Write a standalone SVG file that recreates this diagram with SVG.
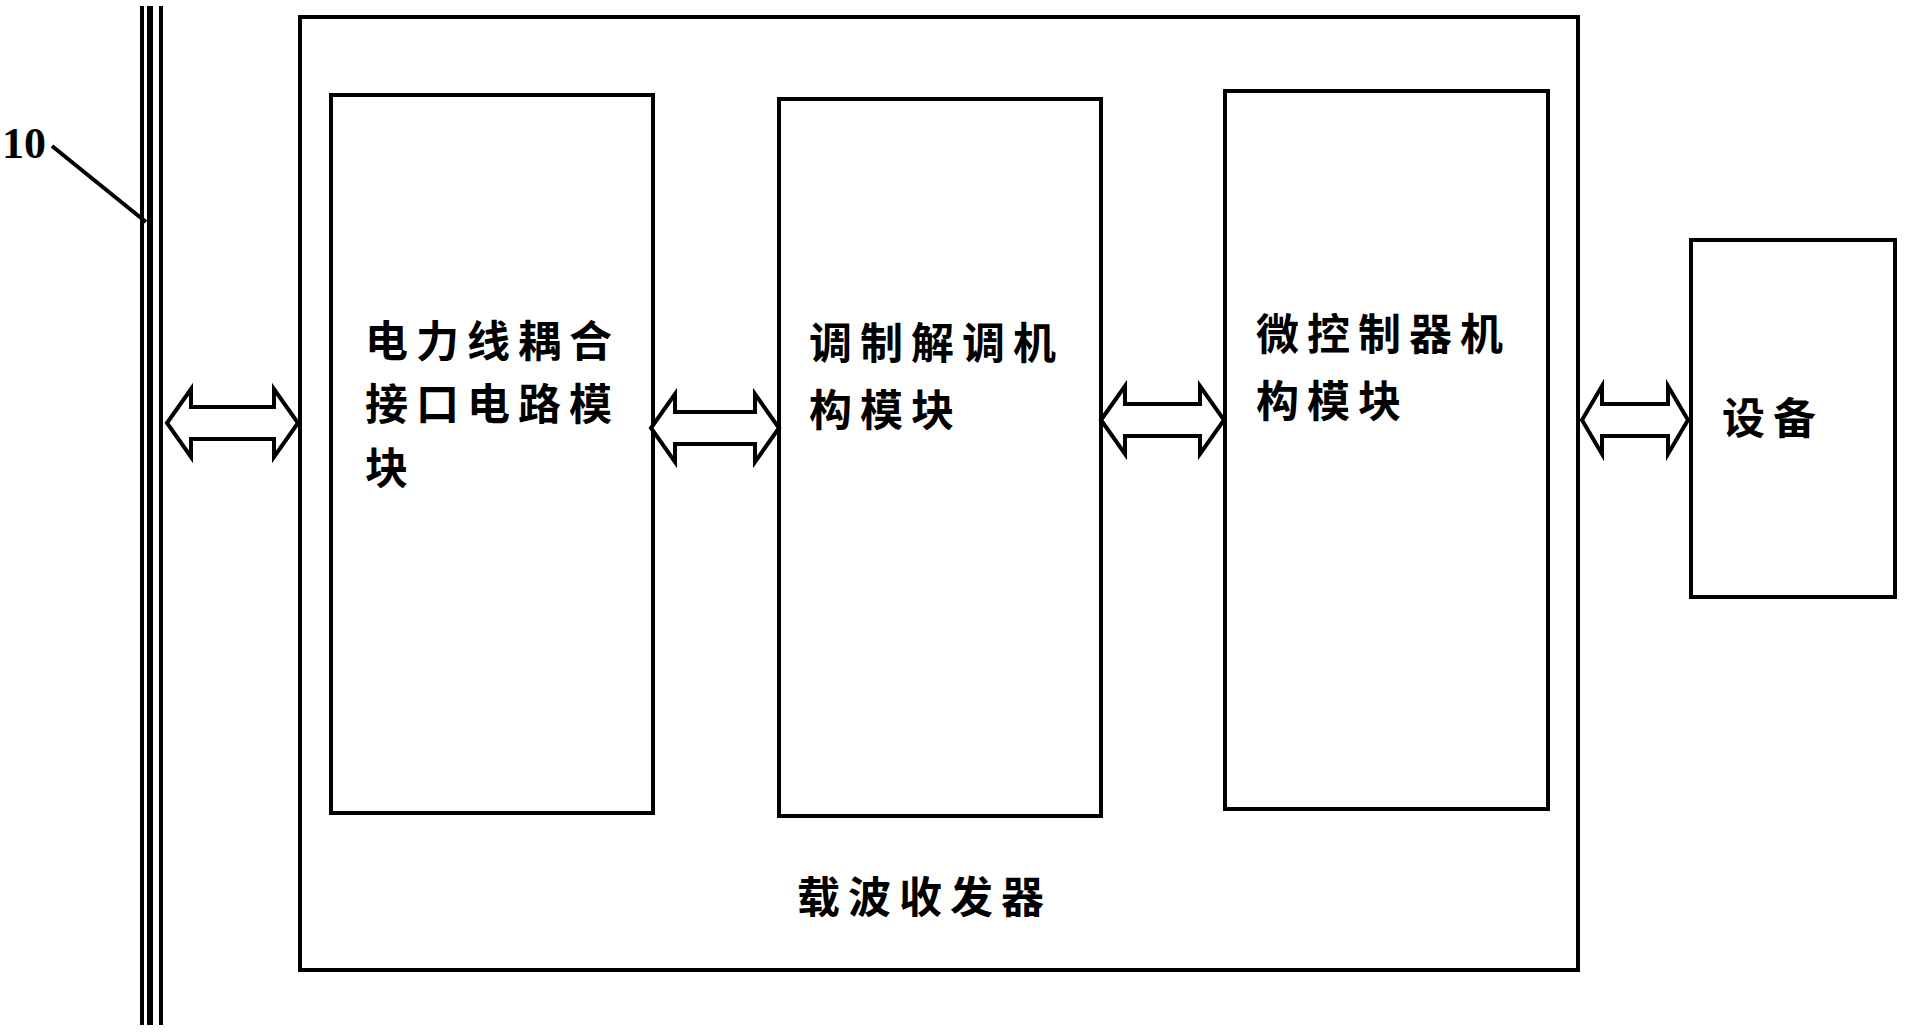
<svg xmlns="http://www.w3.org/2000/svg" width="1908" height="1035" viewBox="0 0 1908 1035">
<style>
.b{fill:none;stroke:#000;stroke-width:4}
.t{font-family:"Noto Sans CJK SC","Noto Sans",sans-serif;font-weight:bold;font-size:43px;letter-spacing:8px;fill:#000}
.a{fill:#fff;stroke:#000;stroke-width:4;stroke-linejoin:miter}
</style>
<rect width="1908" height="1035" fill="#fff"/>
<g id="powerline">
<line x1="142" y1="6" x2="142" y2="1025" stroke="#000" stroke-width="4"/>
<line x1="150" y1="6" x2="150" y2="1025" stroke="#000" stroke-width="6"/>
<line x1="161" y1="6" x2="161" y2="1025" stroke="#000" stroke-width="4"/>
<text x="2" y="158" font-family="Liberation Serif,serif" font-size="44" font-weight="bold">10</text>
<line x1="52" y1="146" x2="146" y2="222" stroke="#000" stroke-width="4"/>
</g>
<g id="transceiver">
<rect class="b" x="300" y="17" width="1278" height="953"/>
<text class="t" x="797" y="913">载波收发器</text>
</g>
<g id="coupling">
<rect class="b" x="331" y="95" width="322" height="718"/>
<text class="t" x="365" y="357">电力线耦合</text>
<text class="t" x="365" y="420">接口电路模</text>
<text class="t" x="365" y="484">块</text>
</g>
<g id="modem">
<rect class="b" x="779" y="99" width="322" height="717"/>
<text class="t" x="809" y="359">调制解调机</text>
<text class="t" x="809" y="426">构模块</text>
</g>
<g id="mcu">
<rect class="b" x="1225" y="91" width="323" height="718"/>
<text class="t" x="1256" y="350">微控制器机</text>
<text class="t" x="1256" y="417">构模块</text>
</g>
<g id="device">
<rect class="b" x="1691" y="240" width="204" height="357"/>
<text class="t" x="1722" y="434">设备</text>
</g>
<g id="connectors">
<polygon class="a" points="167,423 191,389 191,407 274,407 274,389 298,423 274,457 274,439 191,439 191,457"/>
<polygon class="a" points="651,428 675,394 675,412 755,412 755,394 779,428 755,462 755,444 675,444 675,462"/>
<polygon class="a" points="1101,420 1125,386 1125,404 1200,404 1200,386 1224,420 1200,454 1200,436 1125,436 1125,454"/>
<polygon class="a" points="1582,420 1602,386 1602,404 1668,404 1668,386 1688,420 1668,454 1668,436 1602,436 1602,454"/>
</g>
</svg>
